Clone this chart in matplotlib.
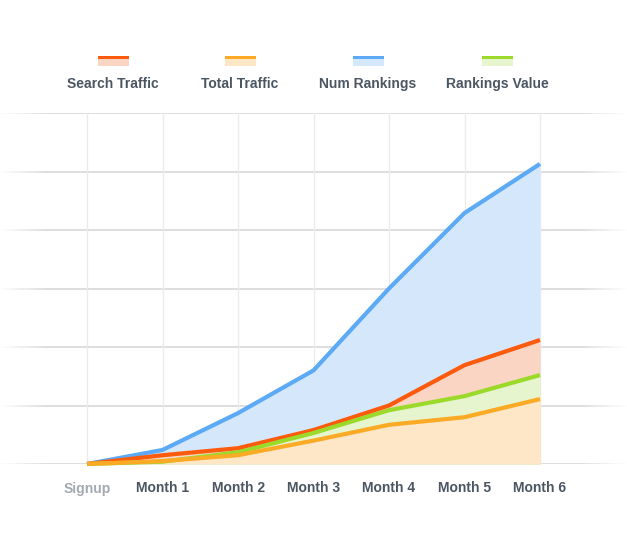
import matplotlib
matplotlib.use('Agg')
import matplotlib.pyplot as plt
import numpy as np
from matplotlib.collections import LineCollection
from matplotlib.patches import Rectangle

plt.rcParams['font.family'] = ['Liberation Sans', 'DejaVu Sans']

months = ['Signup', 'Month 1', 'Month 2', 'Month 3', 'Month 4', 'Month 5', 'Month 6']
num_rankings = [0, 0.24, 0.87, 1.6, 3.0, 4.29, 5.13]
search_traffic = [0, 0.15, 0.27, 0.58, 1.0, 1.69, 2.12]
rankings_value = [0, 0.04, 0.2, 0.53, 0.92, 1.16, 1.52]
total_traffic = [0, 0.05, 0.15, 0.4, 0.67, 0.8, 1.11]

legend_names = ['Search Traffic', 'Total Traffic', 'Num Rankings', 'Rankings Value']

# (line colour, fill colour)
colors = {
    'Num Rankings': ('#5caaf5', '#d5e7fb'),
    'Search Traffic': ('#fc5a0c', '#fbd5c3'),
    'Rankings Value': ('#9bd92a', '#e7f5cf'),
    'Total Traffic': ('#fbaa25', '#fde7c6'),
}
series = [('Num Rankings', num_rankings), ('Search Traffic', search_traffic),
          ('Rankings Value', rankings_value), ('Total Traffic', total_traffic)]

W, H = 627, 541
fig = plt.figure(figsize=(W / 100, H / 100), dpi=100)
ax = fig.add_axes([0, (H - 464) / H, 1, 351 / H])
unit = 75.5
ax.set_xlim(-87 / unit, 6 + (W - 87) / unit - 6)
ax.set_ylim(0, 6)
ax.axis('off')

x = np.arange(len(months))
x0, x1 = ax.get_xlim()

# horizontal grid, fading out at both ends
for gy in range(7):
    xs = np.linspace(x0, x1, 200)
    segs = [[(xs[i], gy), (xs[i + 1], gy)] for i in range(len(xs) - 1)]
    mid = (xs[:-1] + xs[1:]) / 2
    fade = np.clip(np.minimum(mid - x0, x1 - mid) / 0.6, 0, 1)
    cols = [(0.87, 0.87, 0.87, a) for a in fade]
    ax.add_collection(LineCollection(segs, colors=cols, linewidths=1.4, zorder=1))

for gx in x:
    ax.plot([gx, gx], [0, 6], color='#ebebeb', lw=1, zorder=1)

for name, vals in series:
    ax.fill_between(x, 0, vals, color=colors[name][1], lw=0, zorder=2)
for name, vals in series:
    ax.plot(x, vals, color=colors[name][0], lw=3, solid_joinstyle='round',
            solid_capstyle='butt', zorder=3, clip_on=False)

for i, m in enumerate(months):
    ax.text(x[i], -24.5 / 58.5, m, ha='center', va='center', fontsize=10,
            fontweight='bold', color='#a3a9b0' if i == 0 else '#4b5663')

# legend
centers = [113, 240, 368, 497]
for name, cx in zip(legend_names, centers):
    line_c, fill_c = colors[name]
    fig.add_artist(Rectangle(((cx - 15.5) / W, 1 - 66 / H), 31 / W, 8 / H,
                             transform=fig.transFigure, color=fill_c, lw=0))
    fig.add_artist(Rectangle(((cx - 15.5) / W, 1 - 58.5 / H), 31 / W, 3 / H,
                             transform=fig.transFigure, color=line_c, lw=0))
    fig.text(cx / W, 1 - 83.5 / H, name, ha='center', va='center', fontsize=10,
             fontweight='bold', color='#4b5663')

fig.savefig('out.png', dpi=100, facecolor='white')
